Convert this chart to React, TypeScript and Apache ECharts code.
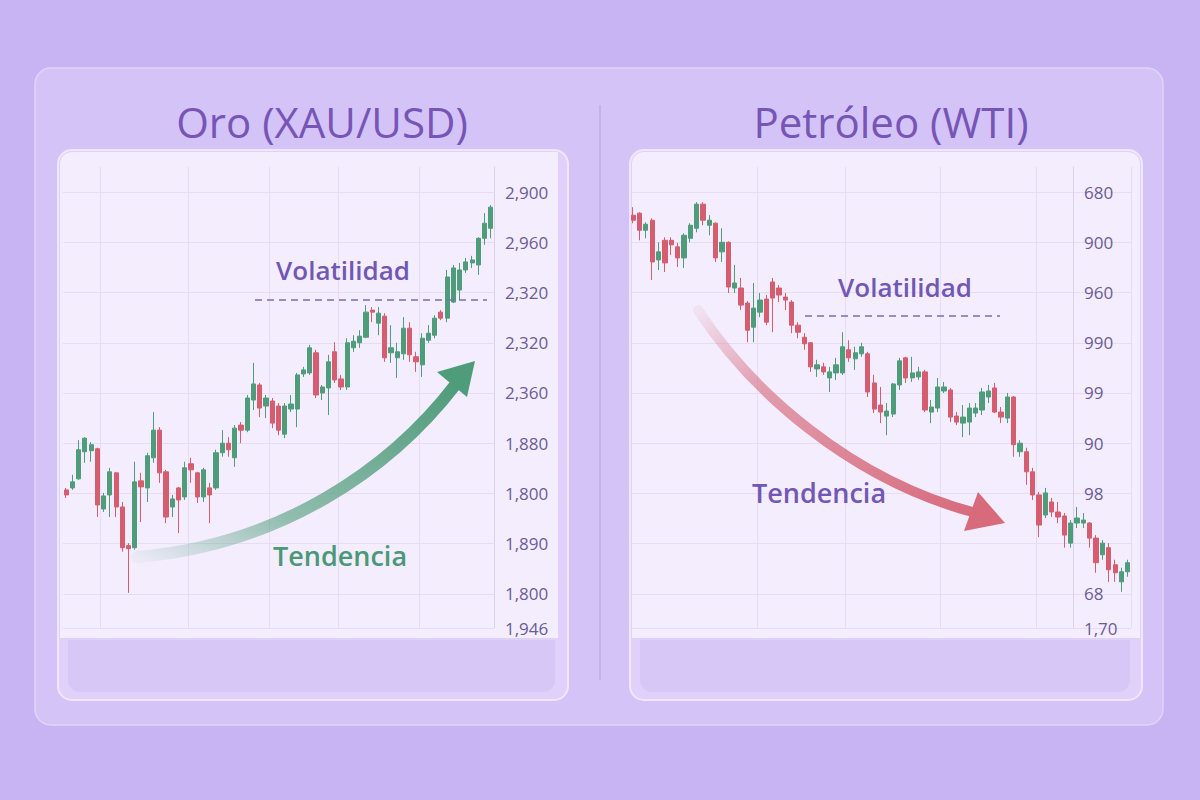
import React, { useEffect, useRef } from "react";
import * as echarts from "echarts";

// ---- Data (axis units: one unit = one horizontal grid step) ----
const goldTickValues = [-0.68, 0, 1, 2, 3, 4, 5, 6, 7, 8];
const goldTickLabels = ["1,946", "1,800", "1,890", "1,800", "1,880", "2,360", "2,320", "2,320", "2,960", "2,900"];
const oilTickValues = [-0.68, 0, 1, 2, 3, 4, 5, 6, 7, 8];
const oilTickLabels = ["1,70", "68", "", "98", "90", "99", "990", "960", "900", "680"];

// [open, close, low, high]
const goldCandles = [
  [2.07, 1.97, 1.91, 2.11], [2.11, 2.23, 2.07, 2.37], [2.29, 2.87, 2.27, 3.06], [2.83, 3.1, 2.61, 3.12],
  [2.85, 2.97, 2.63, 3.02], [2.89, 1.77, 1.53, 2.91], [1.69, 1.95, 1.63, 2.01], [1.97, 2.43, 1.53, 2.51],
  [2.41, 1.73, 1.53, 2.43], [1.73, 0.92, 0.84, 1.83], [0.96, 0.9, 0.02, 1.01], [0.92, 2.23, 0.88, 2.63],
  [2.25, 2.13, 1.43, 2.41], [2.11, 2.75, 1.83, 2.81], [2.71, 3.26, 2.61, 3.62], [3.26, 2.41, 2.21, 3.32],
  [2.43, 1.53, 1.41, 2.47], [1.73, 1.89, 1.53, 1.97], [2.11, 1.87, 1.21, 2.13], [1.93, 2.51, 1.87, 2.63],
  [2.59, 2.47, 2.21, 2.71], [2.41, 1.93, 1.81, 2.43], [1.93, 2.47, 1.83, 2.51], [2.11, 1.97, 1.41, 2.21],
  [2.11, 2.81, 2.07, 2.87], [2.81, 3.0, 2.73, 3.26], [3.0, 2.87, 2.73, 3.12], [2.71, 3.3, 2.53, 3.36],
  [3.36, 3.26, 3.0, 3.42], [3.26, 3.9, 3.22, 3.96], [3.86, 4.18, 3.66, 4.6], [4.16, 3.7, 3.52, 4.2],
  [3.74, 3.9, 3.5, 3.96], [3.84, 3.4, 3.3, 3.9], [3.74, 3.26, 3.16, 3.8], [3.18, 3.74, 3.1, 3.8],
  [3.68, 3.78, 3.62, 3.96], [3.68, 4.36, 3.32, 4.4], [4.38, 4.46, 4.32, 4.52], [4.4, 4.9, 4.36, 4.96],
  [4.8, 3.96, 3.9, 4.86], [4.0, 4.12, 3.86, 4.16], [4.1, 4.62, 3.56, 4.76], [4.82, 4.26, 4.2, 5.01],
  [4.28, 4.12, 4.06, 4.36], [4.12, 5.0, 4.06, 5.09], [4.9, 5.03, 4.82, 5.15], [5.0, 5.13, 4.9, 5.25],
  [5.11, 5.61, 5.09, 5.75], [5.65, 5.61, 5.41, 5.71], [5.39, 5.59, 5.15, 5.71], [5.53, 4.7, 4.62, 5.59],
  [4.8, 4.9, 4.6, 5.35], [4.7, 4.82, 4.3, 5.0], [4.78, 5.29, 4.66, 5.51], [5.29, 4.76, 4.62, 5.41],
  [4.72, 4.62, 4.42, 4.82], [4.56, 5.09, 4.32, 5.19], [5.05, 5.19, 5.0, 5.35], [5.15, 5.49, 5.09, 5.55],
  [5.61, 5.49, 5.45, 5.65], [5.49, 6.31, 5.41, 6.45], [5.81, 6.49, 5.79, 6.55], [6.05, 6.45, 5.85, 6.59],
  [6.45, 6.61, 6.39, 6.69], [6.59, 6.65, 6.49, 6.73], [6.55, 7.08, 6.35, 7.1], [7.08, 7.38, 6.95, 7.58],
  [7.28, 7.7, 7.08, 7.74],
];

const oilCandles = [
  [7.54, 7.44, 7.38, 7.7], [7.58, 7.24, 7.04, 7.6], [7.24, 7.36, 7.08, 7.4], [7.44, 6.61, 6.25, 7.48],
  [6.65, 6.81, 6.45, 7.0], [7.04, 6.59, 6.41, 7.1], [7.04, 6.95, 6.75, 7.1], [6.91, 6.69, 6.51, 6.99],
  [6.69, 7.14, 6.49, 7.18], [7.08, 7.34, 7.0, 7.38], [7.28, 7.76, 7.2, 7.8], [7.76, 7.44, 7.34, 7.8],
  [7.34, 7.44, 7.14, 7.54], [7.38, 6.69, 6.61, 7.4], [6.81, 7.0, 6.61, 7.28], [7.0, 6.11, 5.99, 7.02],
  [6.09, 6.19, 5.99, 6.55], [6.09, 5.75, 5.65, 6.29], [5.79, 5.25, 5.01, 5.83], [5.31, 5.69, 5.01, 6.19],
  [5.61, 5.85, 5.51, 5.99], [5.87, 5.41, 5.35, 5.95], [6.21, 5.89, 5.21, 6.29], [6.09, 5.95, 5.81, 6.15],
  [5.91, 5.85, 5.65, 5.99], [5.81, 5.35, 5.19, 5.85], [5.35, 5.21, 5.09, 5.41], [5.11, 4.98, 4.86, 5.19],
  [5.0, 4.52, 4.42, 5.01], [4.48, 4.56, 4.32, 4.66], [4.52, 4.42, 4.36, 4.6], [4.3, 4.42, 4.02, 4.52],
  [4.4, 4.56, 4.26, 4.7], [4.4, 4.92, 4.36, 5.21], [4.86, 4.7, 4.62, 5.05], [4.68, 4.8, 4.46, 4.92],
  [4.78, 4.92, 4.72, 5.0], [4.78, 4.02, 3.92, 4.82], [4.2, 3.68, 3.6, 4.36], [3.76, 3.62, 3.4, 4.12],
  [3.54, 3.64, 3.16, 3.8], [3.58, 4.18, 3.52, 4.2], [4.16, 4.64, 4.06, 4.7], [4.7, 4.3, 4.2, 4.72],
  [4.3, 4.4, 4.22, 4.72], [4.32, 4.42, 4.26, 4.52], [4.42, 3.66, 3.62, 4.46], [3.62, 3.72, 3.4, 3.86],
  [3.7, 4.12, 3.62, 4.3], [4.04, 4.12, 4.0, 4.22], [4.06, 3.52, 3.42, 4.1], [3.54, 3.42, 3.36, 3.62],
  [3.4, 3.52, 3.12, 3.76], [3.42, 3.7, 3.16, 3.8], [3.6, 3.7, 3.52, 3.8], [3.66, 4.02, 3.56, 4.1],
  [3.92, 4.04, 3.8, 4.16], [4.1, 3.62, 3.6, 4.2], [3.62, 3.52, 3.4, 3.72], [3.5, 3.92, 3.4, 4.0],
  [3.92, 2.97, 2.73, 3.94], [2.83, 3.0, 2.73, 3.06], [2.83, 2.43, 2.17, 2.91], [2.43, 1.97, 1.87, 2.51],
  [1.97, 1.37, 1.13, 2.03], [1.57, 2.01, 1.51, 2.11], [1.83, 1.63, 1.53, 1.91], [1.63, 1.53, 1.41, 1.83],
  [1.55, 1.17, 0.92, 1.61], [1.01, 1.41, 0.92, 1.47], [1.41, 1.51, 1.31, 1.73], [1.41, 1.47, 1.31, 1.61],
  [1.41, 1.11, 0.92, 1.43], [1.11, 0.62, 0.42, 1.17], [0.78, 1.01, 0.68, 1.07], [0.92, 0.48, 0.24, 1.01],
  [0.58, 0.42, 0.24, 0.68], [0.24, 0.44, 0.04, 0.52], [0.44, 0.62, 0.34, 0.68],
];

const goldDays = goldCandles.map((_, i) => String(i + 1));
const oilDays = oilCandles.map((_, i) => String(i + 1));
const goldVLines = [6, 20, 33, 44, 57];
const oilVLines = [20, 34, 49, 64];

const GREEN = "#4f9c7a";
const RED = "#d65d6f";
const PURPLE = "#7655b7";
const FONT = "'Open Sans', 'Noto Sans', sans-serif";

export default function App() {
  const ref = useRef<HTMLDivElement>(null);

  useEffect(() => {
    const chart = echarts.init(ref.current!, null, { renderer: "svg", width: 1200, height: 800 });

    const fmt = (vals: number[], labels: string[]) => (v: number) => {
      const i = vals.findIndex((x) => Math.abs(x - v) < 1e-6);
      return i >= 0 ? labels[i] : "";
    };

    const yAxis = (gridIndex: number, vals: number[], labels: string[], offset: number) => ({
      type: "value",
      gridIndex,
      min: -0.68,
      max: 8.5,
      position: "right",
      offset,
      axisLine: { show: true, lineStyle: { color: "#dcd0ef", width: 1 } },
      axisTick: { show: false, customValues: vals },
      axisLabel: {
        customValues: vals,
        formatter: fmt(vals, labels),
        color: "#6c5c96",
        fontSize: 17,
        fontFamily: FONT,
        margin: 11,
      },
      splitLine: { show: true, lineStyle: { color: "#e6ddf4", width: 1 } },
    });

    const xAxis = (gridIndex: number, data: string[], lines: number[]) => ({
      type: "category",
      gridIndex,
      data,
      boundaryGap: true,
      axisLine: { show: false },
      axisTick: { show: false },
      axisLabel: { show: false },
      splitLine: {
        show: true,
        interval: (i: number) => lines.includes(i),
        lineStyle: { color: "#e6ddf4", width: 1 },
      },
    });

    const candleStyle = {
      color: GREEN,
      color0: RED,
      borderColor: GREEN,
      borderColor0: RED,
      borderWidth: 1,
    };

    const text = (t: string, x: number, y: number, size: number, fill: string, weight = 500) => ({
      type: "text",
      z: 20,
      x,
      y,
      style: {
        text: t,
        fill,
        font: `${weight} ${size}px ${FONT}`,
        align: "center",
        verticalAlign: "middle",
        textAlign: "center",
        textVerticalAlign: "middle",
      },
    });

    const option: any = {
      animation: false,
      backgroundColor: "#c8b3f3",
      grid: [
        { left: 63, right: 1200 - 494, top: 167, bottom: 800 - 628 },
        { left: 630, right: 1200 - 1131, top: 167, bottom: 800 - 628 },
      ],
      xAxis: [xAxis(0, goldDays, goldVLines), xAxis(1, oilDays, oilVLines)],
      yAxis: [
        yAxis(0, goldTickValues, goldTickLabels, 0),
        yAxis(1, oilTickValues, oilTickLabels, -58),
      ],
      series: [
        {
          type: "candlestick",
          xAxisIndex: 0,
          yAxisIndex: 0,
          data: goldCandles,
          barWidth: "75%",
          itemStyle: candleStyle,
        },
        {
          type: "candlestick",
          xAxisIndex: 1,
          yAxisIndex: 1,
          data: oilCandles,
          barWidth: "75%",
          itemStyle: candleStyle,
        },
      ],
      graphic: [
        // outer card
        {
          type: "rect", z: -10,
          shape: { x: 35, y: 68, width: 1128, height: 657, r: 16 },
          style: { fill: "#d4c3f6", stroke: "#e0d4fa", lineWidth: 1.5 },
        },
        // left card
        {
          type: "rect", z: -9,
          shape: { x: 58, y: 150, width: 510, height: 550, r: 14 },
          style: { fill: "#dfd1f9", stroke: "#efe7fd", lineWidth: 2 },
        },
        {
          type: "rect", z: -8,
          shape: { x: 60, y: 152, width: 498, height: 486, r: [12, 0, 0, 0] },
          style: { fill: "#f3edfd" },
        },
        {
          type: "rect", z: -8,
          shape: { x: 68, y: 640, width: 487, height: 52, r: [0, 0, 12, 12] },
          style: { fill: "#d7c7f6" },
        },
        // right card
        {
          type: "rect", z: -9,
          shape: { x: 630, y: 150, width: 512, height: 550, r: 14 },
          style: { fill: "#dfd1f9", stroke: "#efe7fd", lineWidth: 2 },
        },
        {
          type: "rect", z: -8,
          shape: { x: 632, y: 152, width: 508, height: 486, r: [12, 12, 0, 0] },
          style: { fill: "#f3edfd" },
        },
        {
          type: "rect", z: -8,
          shape: { x: 640, y: 640, width: 490, height: 52, r: [0, 0, 12, 12] },
          style: { fill: "#d7c7f6" },
        },
        // divider
        {
          type: "line", z: -7,
          shape: { x1: 600, y1: 105, x2: 600, y2: 680 },
          style: { stroke: "#b7a5da", lineWidth: 1 },
        },
        // titles
        text("Oro (XAU/USD)", 322, 121, 42, PURPLE, 500),
        text("Petróleo (WTI)", 891, 121, 42, PURPLE, 500),
        // volatility annotations
        text("Volatilidad", 343, 270, 26, "#7257b4", 600),
        {
          type: "line", z: 20,
          shape: { x1: 255, y1: 300, x2: 487, y2: 300 },
          style: { stroke: "#7f6bb2", lineWidth: 1.5, lineDash: [7, 5] },
        },
        text("Volatilidad", 905, 287, 26, "#7257b4", 600),
        {
          type: "line", z: 20,
          shape: { x1: 805, y1: 316, x2: 1000, y2: 316 },
          style: { stroke: "#7f6bb2", lineWidth: 1.5, lineDash: [7, 5] },
        },
        // trend arrows
        {
          type: "bezierCurve", z: 15,
          shape: { x1: 137, y1: 557, cpx1: 280, cpy1: 545, cpx2: 390, cpy2: 470, x2: 456, y2: 384 },
          style: {
            fill: "none",
            lineWidth: 12,
            lineCap: "round",
            stroke: new echarts.graphic.LinearGradient(0, 1, 1, 0, [
              { offset: 0, color: "rgba(79,156,122,0.05)" },
              { offset: 0.35, color: "rgba(79,156,122,0.6)" },
              { offset: 1, color: "#4f9c7a" },
            ]),
          },
        },
        {
          type: "polygon", z: 15,
          shape: { points: [[475, 361], [437, 372], [467, 397]] },
          style: { fill: "#4f9c7a" },
        },
        text("Tendencia", 340, 555, 27, "#4a9877", 600),
        {
          type: "bezierCurve", z: 15,
          shape: { x1: 698, y1: 310, cpx1: 750, cpy1: 390, cpx2: 850, cpy2: 480, x2: 976, y2: 513 },
          style: {
            fill: "none",
            lineWidth: 10,
            lineCap: "round",
            stroke: new echarts.graphic.LinearGradient(0, 0, 1, 1, [
              { offset: 0, color: "rgba(214,104,122,0.08)" },
              { offset: 0.3, color: "rgba(214,104,122,0.6)" },
              { offset: 1, color: "#d76b7c" },
            ]),
          },
        },
        {
          type: "polygon", z: 15,
          shape: { points: [[1005, 523], [978, 492], [964, 531]] },
          style: { fill: "#d76b7c" },
        },
        text("Tendencia", 819, 492, 27, "#7257b4", 600),
      ],
    };

    chart.setOption(option);
    return () => chart.dispose();
  }, []);

  return (
    <div
      ref={ref}
      style={{ position: "absolute", left: 0, top: 0, width: 1200, height: 800 }}
    />
  );
}
